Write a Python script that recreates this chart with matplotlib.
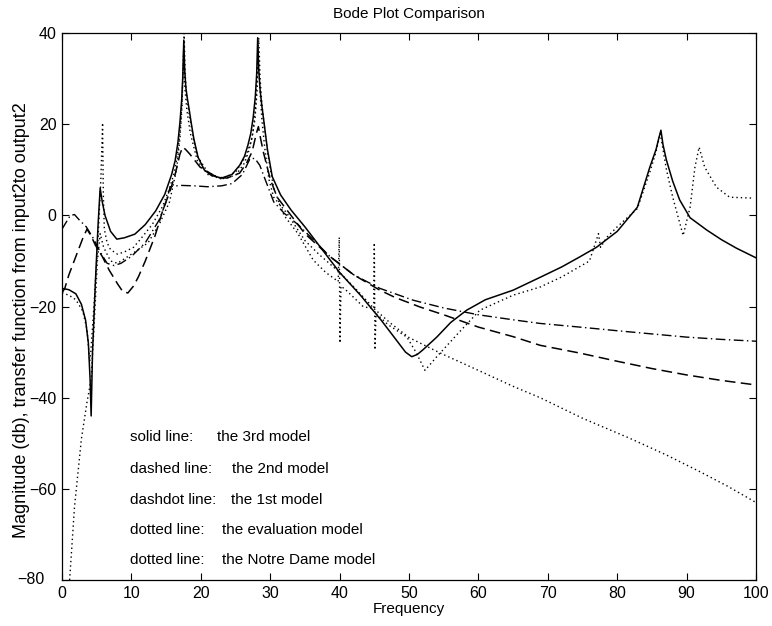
import matplotlib
matplotlib.use("Agg")
import matplotlib.pyplot as plt

plt.rcParams['font.family'] = ['Liberation Sans', 'DejaVu Sans']

# 3rd model (solid)
f_solid = [0, 1, 2, 2.8, 3.4, 3.8, 4.05, 4.2, 4.4, 4.8, 5.2, 5.5, 5.8, 6.2, 7, 7.9, 9, 10.5, 12,
           13.5, 14.8, 15.8, 16.3, 16.7, 17.0, 17.25, 17.42, 17.55, 17.68, 17.85, 18.05, 18.3,
           18.6, 19.0, 19.6, 20.5, 21.5, 23, 24.5, 25.6, 26.3, 26.8, 27.2, 27.55, 27.85, 28.05,
           28.2, 28.35, 28.55, 28.8, 29.1, 29.6, 30.3, 31.5, 33, 35, 36.5, 38, 40, 43, 46, 48,
           49.5, 50.4, 51.2, 52, 54, 56, 58.3, 61, 65, 69, 72, 74.6, 77, 80, 82.9, 84.7, 85.6,
           86.0, 86.3, 86.6, 87.1, 88, 89, 90.5, 92.9, 95, 97.2, 100]
m_solid = [-16, -16.3, -17.2, -19.5, -23, -28, -36, -44, -30, -15, -2, 6, 3, 0, -3.5, -5.2, -4.9,
           -4.1, -2, 1, 4.6, 9, 12, 16, 20.5, 25.5, 31, 38.5, 32, 28, 25.8, 23.5, 20.5, 16.8,
           12.8, 10, 8.8, 8.2, 9, 11, 13, 15.5, 18, 21.5, 26, 31, 39, 32, 27.5, 24, 20.5, 14.5,
           8.5, 4.5, 1.2, -2.5, -5.5, -8.5, -12.5, -17.5, -23, -27, -30, -31, -30.5, -29.5,
           -26.7, -23.5, -20.8, -18.5, -16.4, -13.5, -11.3, -9.1, -7, -3.5, 1.8, 10.6, 14.5,
           17, 18.7, 15.5, 12.1, 7.5, 3.4, -0.5, -3.2, -5.3, -7.2, -9.3]

# 2nd model (dashed)
f_dashed = [0, 0.4, 1, 2, 3, 3.6, 4.2, 4.8, 5.8, 6.8, 8, 8.8, 9.5, 10.3, 11, 12, 13.4, 14.6,
            15.5, 16.3, 17, 17.4, 17.8, 18.4, 19.9, 22.3, 23.8, 25.6, 26.6, 27.4, 28, 28.3,
            28.6, 29, 30, 31, 33, 35, 38.6, 42, 45.8, 48, 51.6, 55, 60, 65, 68.9, 74.6, 80, 85,
            90, 95, 100]
m_dashed = [-17, -16, -13, -9, -5, -3, -4.5, -6.5, -9, -12, -15, -16.8, -17, -15.5, -13.5, -10,
            -4.5, 1.5, 5, 9, 13.5, 15, 14.5, 13.5, 10.6, 8.4, 8.2, 9.3, 11.5, 14, 18, 19.5, 17,
            14, 8, 4, 0, -4, -9, -13, -16.4, -18, -20.1, -21.8, -24.5, -26.6, -28.5, -30.2, -32,
            -33.6, -35, -36.2, -37.2]

# 1st model (dashdot)
f_dashdot = [0, 0.6, 1.2, 1.8, 2.5, 3.5, 4.5, 5.5, 6.5, 7.5, 8.5, 10, 12, 14, 15, 15.6, 17, 19,
             21, 23, 24.5, 26, 27.1, 27.8, 28.5, 29.5, 30.5, 32, 34, 36, 38.6, 42, 45.8, 50.6,
             55, 60, 65, 68.9, 74.6, 80, 85, 90, 95, 100]
m_dashdot = [-3, -1.5, 0, 0.2, -1, -2.5, -5, -8, -10.5, -11, -10.5, -9, -6, -1, 3, 6.3, 6.6,
             6.5, 6.3, 6.5, 7, 9, 12.5, 12.5, 11, 7, 3, 0.5, -2, -5, -9, -13, -16, -18.6, -20.3,
             -21.8, -22.9, -23.7, -24.5, -25.3, -26, -26.7, -27.2, -27.6]

# evaluation model (dotted)
f_eval = [0, 1, 2, 3, 3.6, 4.0, 4.15, 4.6, 5.2, 5.6, 5.85, 5.95, 6.1, 6.5, 7, 8, 9, 10.3, 11.2,
          13, 14.5, 15.5, 16.2, 16.7, 17.1, 17.35, 17.6, 17.75, 17.95, 18.3, 18.8, 19.5, 21, 23,
          25, 26.3, 27.0, 27.5, 27.9, 28.15, 28.35, 28.55, 28.8, 29.2, 29.7, 30.5, 32, 34, 36.2,
          38, 39.8, 39.95, 40.05, 40.2, 41, 43.4, 44.9, 45.0, 45.1, 45.25, 47, 49.7, 51, 52.3,
          54, 57, 60.2, 65, 68.9, 72, 76, 77.3, 77.6, 78.5, 80, 82.9, 84.7, 85.6, 86.2, 87.1,
          88, 89.5, 90.5, 91.2, 91.8, 92.6, 94.3, 96.2, 99.6]
m_eval = [-17, -17.5, -18.5, -21, -25, -32, -30, -20, -5, 8, 20.3, 5, -3, -6, -7.5, -8.5, -8,
          -7, -5.4, -2, 2, 6, 9.5, 14, 20, 27, 40, 31, 26.5, 22.5, 18, 13, 9.5, 8, 8.8, 11.5,
          14.5, 18, 24, 32, 39, 30, 24.5, 19, 13, 6, 0, -4, -9.8, -12.5, -14.5, -4.8, -28, -15.5,
          -16.5, -20, -20.5, -6, -29.5, -21.5, -24, -26.7, -30, -34, -31, -26, -20.8, -17.5,
          -15.7, -13.5, -10, -4, -7, -4.8, -2.5, 1.5, 9.5, 14, 18, 10, 4, -4.4, 1.8, 10.6, 15,
          10.6, 6.2, 4, 3.8]

# Notre Dame model (dotted)
f_nd = [1.1, 1.8, 2.8, 3.6, 4.2, 4.6, 5.1, 5.5, 6, 7, 8, 9, 10.5, 12.4, 14, 15.5, 16.5, 17.0,
        17.3, 17.5, 17.7, 18.0, 18.5, 19.5, 21, 23, 25, 26.5, 27.3, 27.8, 28.1, 28.3, 28.5,
        28.8, 29.2, 29.8, 30.5, 32.4, 35, 37, 40, 42.5, 45, 47.3, 50, 54.5, 60, 65, 68.9, 75,
        81.8, 87, 92, 96, 100]
m_nd = [-80, -64, -49, -41, -36, -25, -10, -4, -7, -10, -10.5, -9.5, -8, -6, -2, 3, 10, 17,
        24, 36, 28, 23, 18, 12, 9, 8, 9.5, 13, 16.5, 21, 27, 36, 28, 21, 15, 8, 4, 0.5, -5.5,
        -8.5, -12.5, -16.4, -20.5, -23.6, -26.8, -30.2, -34, -37.5, -40, -44.5, -48.9, -52.5,
        -56.3, -59.5, -63]

legend_keys = ["solid line:", "dashed line:", "dashdot line:", "dotted line:", "dotted line:"]
legend_names = ["the 3rd model", "the 2nd model", "the 1st model",
                "the evaluation model", "the Notre Dame model"]
legend_y = [-48.6, -55.7, -62.5, -69.0, -75.6]
legend_x2 = [22.3, 24.5, 24.4, 23.0, 23.0]

xticks = list(range(0, 101, 10))
yticks = list(range(-80, 41, 20))

fig = plt.figure(figsize=(7.72, 6.26), dpi=100)
ax = fig.add_axes([0.0803, 0.0735, 0.8990, 0.8735])

ax.plot(f_solid, m_solid, color='black', lw=1.1, linestyle='-')
ax.plot(f_dashed, m_dashed, color='black', lw=1.1, linestyle=(0, (7, 3.5)))
ax.plot(f_dashdot, m_dashdot, color='black', lw=1.0, linestyle=(0, (7, 2.5, 1, 2.5)))
ax.plot(f_eval, m_eval, color='black', lw=1.0, linestyle=(0, (1, 2.2)))
ax.plot(f_nd, m_nd, color='black', lw=1.0, linestyle=(0, (1, 2.2)))

ax.set_xlim(0, 100)
ax.set_ylim(-80, 40)
ax.set_xticks(xticks)
ax.set_yticks(yticks)
ax.set_xticklabels([str(t) for t in xticks])
ylabels = [str(t).replace('-', '\u2212') for t in yticks]
ax.set_yticklabels([''] + ylabels[1:])
# the bottom y tick label sits a little further left in the reference
ax.text(-0.0245, yticks[0], ylabels[0], transform=ax.get_yaxis_transform(),
        ha='right', va='center', fontsize=11.5)
ax.tick_params(direction='in', top=True, right=True, length=5, width=0.8,
               labelsize=11.5, pad=4)
for sp in ax.spines.values():
    sp.set_linewidth(0.9)

for k, n, y, x2 in zip(legend_keys, legend_names, legend_y, legend_x2):
    ax.text(9.8, y, k, fontsize=11, va='center', ha='left')
    ax.text(x2, y, n, fontsize=11, va='center', ha='left')

ax.set_title("Bode Plot Comparison", fontsize=11, pad=11)
ax.set_xlabel("Frequency", fontsize=11, labelpad=1)
ax.set_ylabel("Magnitude (db), transfer function from input2to output2", fontsize=13)
ax.yaxis.set_label_coords(-0.046, 0.475)

fig.savefig("out.png", dpi=100)
